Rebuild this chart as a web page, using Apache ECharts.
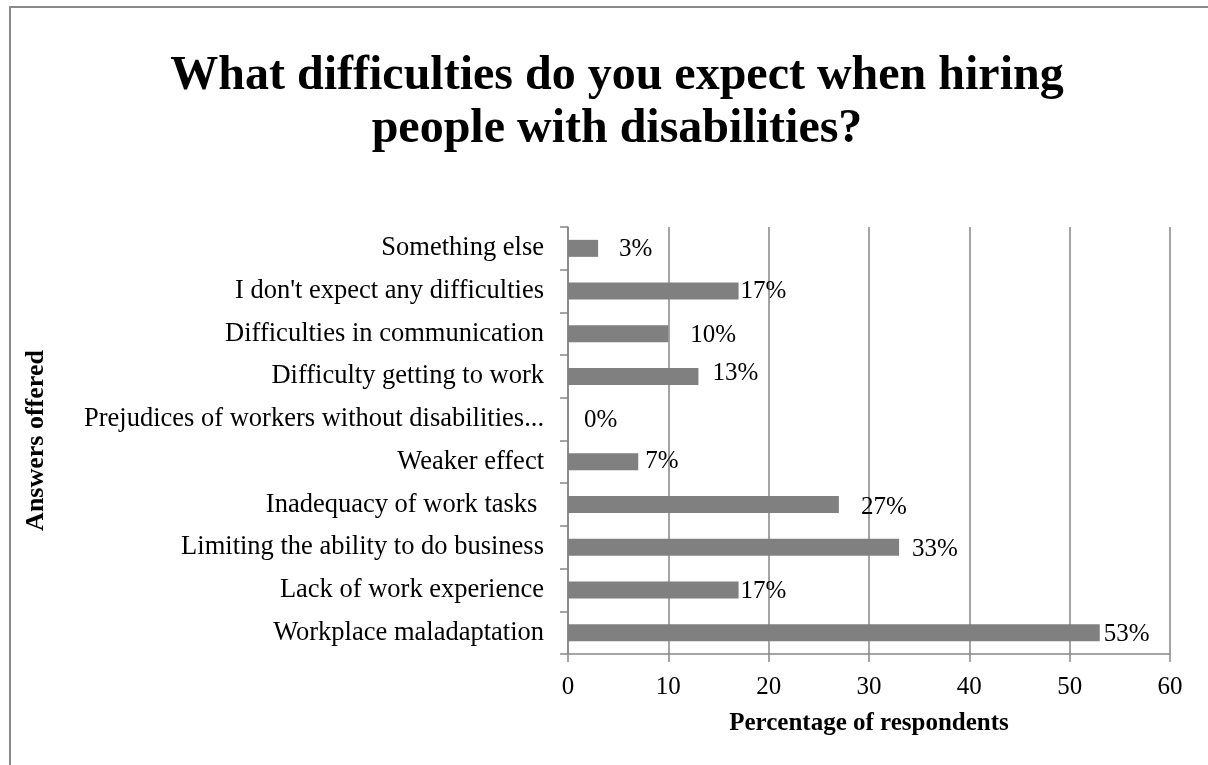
<!DOCTYPE html>
<html>
<head>
<meta charset="utf-8">
<script src="https://cdn.jsdelivr.net/npm/echarts@6/dist/echarts.min.js"></script>
<style>
html,body{margin:0;padding:0;background:#fff;}
#chart{width:1208px;height:765px;}
</style>
</head>
<body>
<div id="chart"></div>
<script>
// Categories listed bottom to top (as ECharts draws a category y-axis)
const categories = [
  "Workplace maladaptation",
  "Lack of work experience",
  "Limiting the ability to do business",
  "Inadequacy of work tasks ",
  "Weaker effect",
  "Prejudices of workers without disabilities...",
  "Difficulty getting to work",
  "Difficulties in communication",
  "I don't expect any difficulties",
  "Something else"
];
const values = [53, 17, 33, 27, 7, 0, 13, 10, 17, 3];
const xTicks = [0, 10, 20, 30, 40, 50, 60];
const titleText = "What difficulties do you expect when hiring\npeople with disabilities?";
const xAxisTitle = "Percentage of respondents";
const yAxisTitle = "Answers offered";

// label placement tweaks (style only), [dx, dy] per bar in same order
const labelShift = [[4,2],[2,1],[13,2],[22,3],[7,0],[16,1],[14,-3],[22,2],[2,0],[21,1]];

const FONT = '"Liberation Serif", "Times New Roman", serif';
const chart = echarts.init(document.getElementById('chart'), null, {renderer: 'canvas'});

const seriesData = values.map((v, i) => ({
  value: v,
  label: { offset: labelShift[i] }
}));

chart.setOption({
  animation: false,
  backgroundColor: '#ffffff',
  graphic: [{
    type: 'rect',
    shape: { x: 10, y: 7, width: 1400, height: 1000 },
    style: { fill: 'none', stroke: '#8a8a8a', lineWidth: 2 },
    silent: true
  }],
  title: {
    text: titleText,
    left: 612,
    textAlign: 'center',
    top: 45,
    textStyle: {
      fontFamily: FONT,
      fontWeight: 'bold',
      fontSize: 48,
      lineHeight: 53,
      color: '#000'
    }
  },
  grid: { left: 568, right: 38, top: 227, bottom: 111, containLabel: false },
  xAxis: {
    type: 'value',
    min: xTicks[0],
    max: xTicks[xTicks.length - 1],
    interval: 10,
    name: xAxisTitle,
    nameLocation: 'middle',
    nameGap: 57,
    nameTextStyle: { fontFamily: FONT, fontWeight: 'bold', fontSize: 25, color: '#000', verticalAlign: 'top' },
    axisLine: { show: true, lineStyle: { color: '#868686', width: 1.5 } },
    axisTick: { show: true, length: 8, lineStyle: { color: '#868686', width: 1.5 } },
    axisLabel: { margin: 21, fontFamily: FONT, fontSize: 25, color: '#000' },
    splitLine: { show: true, lineStyle: { color: '#868686', width: 1.5 } }
  },
  yAxis: {
    type: 'category',
    data: categories,
    name: yAxisTitle,
    nameLocation: 'middle',
    nameRotate: 90,
    nameGap: 519,
    nameTextStyle: { fontFamily: FONT, fontWeight: 'bold', fontSize: 26, color: '#000' },
    axisLine: { show: true, lineStyle: { color: '#868686', width: 1.5 } },
    axisTick: { show: true, length: 8, alignWithLabel: false, lineStyle: { color: '#868686', width: 1.5 } },
    axisLabel: { margin: 24, fontFamily: FONT, fontSize: 26.5, color: '#000' },
    splitLine: { show: false }
  },
  series: [{
    type: 'bar',
    data: seriesData,
    barWidth: 17,
    itemStyle: { color: '#808080' },
    label: {
      show: true,
      position: 'right',
      distance: 0,
      formatter: '{c}%',
      fontFamily: FONT,
      fontSize: 25,
      color: '#000'
    }
  }]
});
</script>
</body>
</html>
